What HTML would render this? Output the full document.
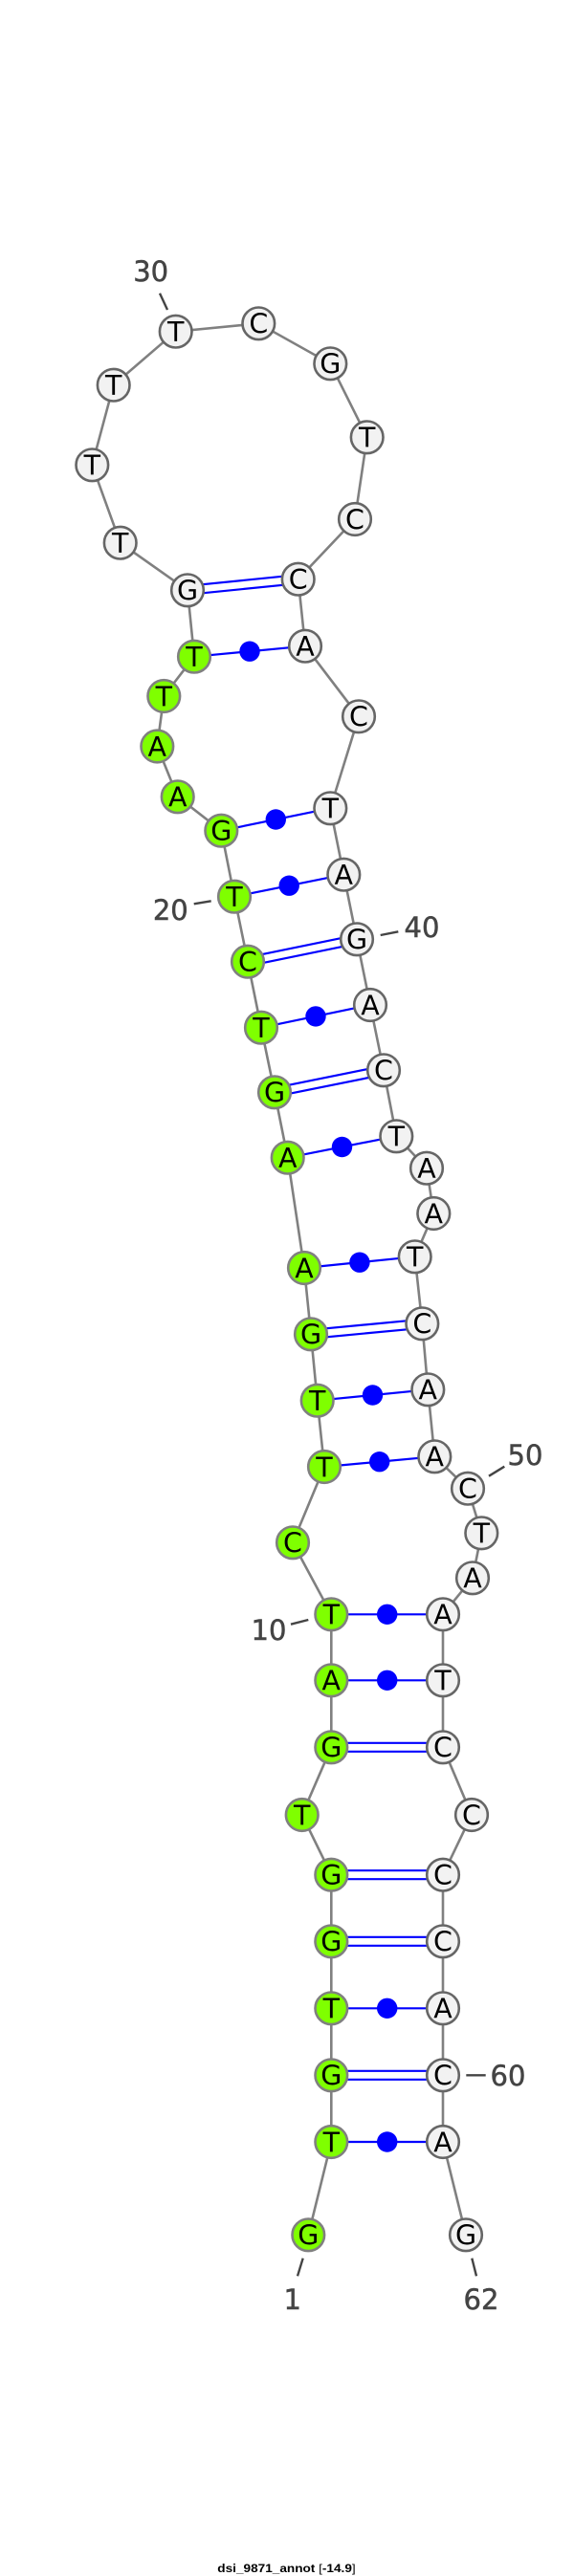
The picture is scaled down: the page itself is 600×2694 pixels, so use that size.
<!DOCTYPE html>
<html>
<head>
<meta charset="utf-8">
<style>
html,body{margin:0;padding:0;background:#fff;}
svg{display:block;}
.n{font-family:"DejaVu Sans",sans-serif;font-size:28.5px;text-anchor:middle;fill:#000;transform:translateY(0.8px);}
.l{font-family:"DejaVu Sans",sans-serif;font-size:29px;text-anchor:middle;fill:#444;stroke:#444;stroke-width:0.5;transform:translateY(0.6px);}
.g{fill:#7fff00;stroke:#808080;stroke-width:2.6;}
.w{fill:#f2f2f2;stroke:#666;stroke-width:2.6;}
.p{stroke:#0000ff;stroke-width:2.2;fill:none;}
.t{stroke:#444;stroke-width:2.4;}
</style>
</head>
<body>
<svg width="600" height="2694" viewBox="0 0 600 2694" xmlns="http://www.w3.org/2000/svg">
<polyline fill="none" stroke="#808080" stroke-width="2.6" points="322.3,2337.3 346.3,2240 346.3,2170.3 346.3,2100.3 346.3,2030.3 346.3,1960.7 315.7,1898 346.3,1827.3 346.3,1757.3 346.3,1688.3 306,1613.3 339,1534 331.7,1464.7 325,1395.3 318,1326 300.7,1210.7 287,1142.3 273,1074.7 259,1005.7 245,937.7 231.3,868.7 185.7,833.3 164.3,780.5 171.3,728 203,686.7 196,617.3 125.7,567.7 96.3,486.3 118.7,402.7 183.7,346.7 270.3,338.3 345.3,380.3 383.7,457.3 371,543 311.7,605.7 319,675.7 375,749.3 345.3,845.3 359.3,914.7 373,982.3 387,1051 401,1119.3 414.3,1188.3 446,1221.7 453.3,1269 433.7,1314.3 441.3,1384.3 447.3,1453.3 454.3,1523.3 489,1556.7 503.3,1603.3 494,1650.3 463,1688.3 463,1757.3 463,1827.3 493,1898 463,1960.7 463,2030.3 463,2100.3 463,2170.3 463,2240 487,2337.3"/>
<line class="p" x1="346.3" y1="2240" x2="463" y2="2240"/>
<line class="p" x1="346.3" y1="2100.3" x2="463" y2="2100.3"/>
<line class="p" x1="346.3" y1="1757.3" x2="463" y2="1757.3"/>
<line class="p" x1="346.3" y1="1688.3" x2="463" y2="1688.3"/>
<line class="p" x1="339" y1="1534" x2="454.3" y2="1523.3"/>
<line class="p" x1="331.7" y1="1464.7" x2="447.3" y2="1453.3"/>
<line class="p" x1="318" y1="1326" x2="433.7" y2="1314.3"/>
<line class="p" x1="300.7" y1="1210.7" x2="414.3" y2="1188.3"/>
<line class="p" x1="273" y1="1074.7" x2="387" y2="1051"/>
<line class="p" x1="245" y1="937.7" x2="359.3" y2="914.7"/>
<line class="p" x1="231.3" y1="868.7" x2="345.3" y2="845.3"/>
<line class="p" x1="203" y1="686.7" x2="319" y2="675.7"/>
<line class="p" x1="346.3" y1="2165.8" x2="463" y2="2165.8"/><line class="p" x1="346.3" y1="2174.8" x2="463" y2="2174.8"/>
<line class="p" x1="346.3" y1="2025.8" x2="463" y2="2025.8"/><line class="p" x1="346.3" y1="2034.8" x2="463" y2="2034.8"/>
<line class="p" x1="346.3" y1="1956.2" x2="463" y2="1956.2"/><line class="p" x1="346.3" y1="1965.2" x2="463" y2="1965.2"/>
<line class="p" x1="346.3" y1="1822.8" x2="463" y2="1822.8"/><line class="p" x1="346.3" y1="1831.8" x2="463" y2="1831.8"/>
<line class="p" x1="324.6" y1="1390.8" x2="440.9" y2="1379.8"/><line class="p" x1="325.4" y1="1399.8" x2="441.7" y2="1388.8"/>
<line class="p" x1="286.1" y1="1137.9" x2="400.1" y2="1114.9"/><line class="p" x1="287.9" y1="1146.7" x2="401.9" y2="1123.7"/>
<line class="p" x1="258.1" y1="1001.3" x2="372.1" y2="977.9"/><line class="p" x1="259.9" y1="1010.1" x2="373.9" y2="986.7"/>
<line class="p" x1="195.55" y1="612.8" x2="311.25" y2="601.2"/><line class="p" x1="196.45" y1="621.8" x2="312.15" y2="610.2"/>
<g fill="#0000ff">
<circle cx="404.7" cy="2240" r="10.7"/>
<circle cx="404.7" cy="2100.3" r="10.7"/>
<circle cx="404.7" cy="1757.3" r="10.7"/>
<circle cx="404.7" cy="1688.3" r="10.7"/>
<circle cx="396.7" cy="1528.7" r="10.7"/>
<circle cx="389.5" cy="1459" r="10.7"/>
<circle cx="375.9" cy="1320.2" r="10.7"/>
<circle cx="357.5" cy="1199.5" r="10.7"/>
<circle cx="330" cy="1062.9" r="10.7"/>
<circle cx="302.2" cy="926.2" r="10.7"/>
<circle cx="288.3" cy="857" r="10.7"/>
<circle cx="261" cy="681.2" r="10.7"/>
</g>
<g>
<circle class="g" cx="322.3" cy="2337.3" r="16.8"/><text class="n" x="322.3" y="2346.8">G</text>
<circle class="g" cx="346.3" cy="2240" r="16.8"/><text class="n" x="346.3" y="2249.5">T</text>
<circle class="g" cx="346.3" cy="2170.3" r="16.8"/><text class="n" x="346.3" y="2179.8">G</text>
<circle class="g" cx="346.3" cy="2100.3" r="16.8"/><text class="n" x="346.3" y="2109.8">T</text>
<circle class="g" cx="346.3" cy="2030.3" r="16.8"/><text class="n" x="346.3" y="2039.8">G</text>
<circle class="g" cx="346.3" cy="1960.7" r="16.8"/><text class="n" x="346.3" y="1970.2">G</text>
<circle class="g" cx="315.7" cy="1898" r="16.8"/><text class="n" x="315.7" y="1907.5">T</text>
<circle class="g" cx="346.3" cy="1827.3" r="16.8"/><text class="n" x="346.3" y="1836.8">G</text>
<circle class="g" cx="346.3" cy="1757.3" r="16.8"/><text class="n" x="346.3" y="1766.8">A</text>
<circle class="g" cx="346.3" cy="1688.3" r="16.8"/><text class="n" x="346.3" y="1697.8">T</text>
<circle class="g" cx="306" cy="1613.3" r="16.8"/><text class="n" x="306" y="1622.8">C</text>
<circle class="g" cx="339" cy="1534" r="16.8"/><text class="n" x="339" y="1543.5">T</text>
<circle class="g" cx="331.7" cy="1464.7" r="16.8"/><text class="n" x="331.7" y="1474.2">T</text>
<circle class="g" cx="325" cy="1395.3" r="16.8"/><text class="n" x="325" y="1404.8">G</text>
<circle class="g" cx="318" cy="1326" r="16.8"/><text class="n" x="318" y="1335.5">A</text>
<circle class="g" cx="300.7" cy="1210.7" r="16.8"/><text class="n" x="300.7" y="1220.2">A</text>
<circle class="g" cx="287" cy="1142.3" r="16.8"/><text class="n" x="287" y="1151.8">G</text>
<circle class="g" cx="273" cy="1074.7" r="16.8"/><text class="n" x="273" y="1084.2">T</text>
<circle class="g" cx="259" cy="1005.7" r="16.8"/><text class="n" x="259" y="1015.2">C</text>
<circle class="g" cx="245" cy="937.7" r="16.8"/><text class="n" x="245" y="947.2">T</text>
<circle class="g" cx="231.3" cy="868.7" r="16.8"/><text class="n" x="231.3" y="878.2">G</text>
<circle class="g" cx="185.7" cy="833.3" r="16.8"/><text class="n" x="185.7" y="842.8">A</text>
<circle class="g" cx="164.3" cy="780.5" r="16.8"/><text class="n" x="164.3" y="790">A</text>
<circle class="g" cx="171.3" cy="728" r="16.8"/><text class="n" x="171.3" y="737.5">T</text>
<circle class="g" cx="203" cy="686.7" r="16.8"/><text class="n" x="203" y="696.2">T</text>
<circle class="w" cx="196" cy="617.3" r="16.8"/><text class="n" x="196" y="626.8">G</text>
<circle class="w" cx="125.7" cy="567.7" r="16.8"/><text class="n" x="125.7" y="577.2">T</text>
<circle class="w" cx="96.3" cy="486.3" r="16.8"/><text class="n" x="96.3" y="495.8">T</text>
<circle class="w" cx="118.7" cy="402.7" r="16.8"/><text class="n" x="118.7" y="412.2">T</text>
<circle class="w" cx="183.7" cy="346.7" r="16.8"/><text class="n" x="183.7" y="356.2">T</text>
<circle class="w" cx="270.3" cy="338.3" r="16.8"/><text class="n" x="270.3" y="347.8">C</text>
<circle class="w" cx="345.3" cy="380.3" r="16.8"/><text class="n" x="345.3" y="389.8">G</text>
<circle class="w" cx="383.7" cy="457.3" r="16.8"/><text class="n" x="383.7" y="466.8">T</text>
<circle class="w" cx="371" cy="543" r="16.8"/><text class="n" x="371" y="552.5">C</text>
<circle class="w" cx="311.7" cy="605.7" r="16.8"/><text class="n" x="311.7" y="615.2">C</text>
<circle class="w" cx="319" cy="675.7" r="16.8"/><text class="n" x="319" y="685.2">A</text>
<circle class="w" cx="375" cy="749.3" r="16.8"/><text class="n" x="375" y="758.8">C</text>
<circle class="w" cx="345.3" cy="845.3" r="16.8"/><text class="n" x="345.3" y="854.8">T</text>
<circle class="w" cx="359.3" cy="914.7" r="16.8"/><text class="n" x="359.3" y="924.2">A</text>
<circle class="w" cx="373" cy="982.3" r="16.8"/><text class="n" x="373" y="991.8">G</text>
<circle class="w" cx="387" cy="1051" r="16.8"/><text class="n" x="387" y="1060.5">A</text>
<circle class="w" cx="401" cy="1119.3" r="16.8"/><text class="n" x="401" y="1128.8">C</text>
<circle class="w" cx="414.3" cy="1188.3" r="16.8"/><text class="n" x="414.3" y="1197.8">T</text>
<circle class="w" cx="446" cy="1221.7" r="16.8"/><text class="n" x="446" y="1231.2">A</text>
<circle class="w" cx="453.3" cy="1269" r="16.8"/><text class="n" x="453.3" y="1278.5">A</text>
<circle class="w" cx="433.7" cy="1314.3" r="16.8"/><text class="n" x="433.7" y="1323.8">T</text>
<circle class="w" cx="441.3" cy="1384.3" r="16.8"/><text class="n" x="441.3" y="1393.8">C</text>
<circle class="w" cx="447.3" cy="1453.3" r="16.8"/><text class="n" x="447.3" y="1462.8">A</text>
<circle class="w" cx="454.3" cy="1523.3" r="16.8"/><text class="n" x="454.3" y="1532.8">A</text>
<circle class="w" cx="489" cy="1556.7" r="16.8"/><text class="n" x="489" y="1566.2">C</text>
<circle class="w" cx="503.3" cy="1603.3" r="16.8"/><text class="n" x="503.3" y="1612.8">T</text>
<circle class="w" cx="494" cy="1650.3" r="16.8"/><text class="n" x="494" y="1659.8">A</text>
<circle class="w" cx="463" cy="1688.3" r="16.8"/><text class="n" x="463" y="1697.8">A</text>
<circle class="w" cx="463" cy="1757.3" r="16.8"/><text class="n" x="463" y="1766.8">T</text>
<circle class="w" cx="463" cy="1827.3" r="16.8"/><text class="n" x="463" y="1836.8">C</text>
<circle class="w" cx="493" cy="1898" r="16.8"/><text class="n" x="493" y="1907.5">C</text>
<circle class="w" cx="463" cy="1960.7" r="16.8"/><text class="n" x="463" y="1970.2">C</text>
<circle class="w" cx="463" cy="2030.3" r="16.8"/><text class="n" x="463" y="2039.8">C</text>
<circle class="w" cx="463" cy="2100.3" r="16.8"/><text class="n" x="463" y="2109.8">A</text>
<circle class="w" cx="463" cy="2170.3" r="16.8"/><text class="n" x="463" y="2179.8">C</text>
<circle class="w" cx="463" cy="2240" r="16.8"/><text class="n" x="463" y="2249.5">A</text>
<circle class="w" cx="487" cy="2337.3" r="16.8"/><text class="n" x="487" y="2346.8">G</text>
</g>
<line class="t" x1="167" y1="306.7" x2="175" y2="324"/><text class="l" x="157.7" y="293.2">30</text>
<line class="t" x1="202.7" y1="945.3" x2="220.7" y2="942.3"/><text class="l" x="178.3" y="961.5">20</text>
<line class="t" x1="397.7" y1="978" x2="416.3" y2="974.3"/><text class="l" x="441" y="979.5">40</text>
<line class="t" x1="511" y1="1543.7" x2="527.3" y2="1533.7"/><text class="l" x="549" y="1531.5">50</text>
<line class="t" x1="304" y1="1698.7" x2="322.3" y2="1694"/><text class="l" x="281" y="1714.5">10</text>
<line class="t" x1="487.3" y1="2170.3" x2="507.7" y2="2170.3"/><text class="l" x="531" y="2180.2">60</text>
<line class="t" x1="316.7" y1="2361.7" x2="311" y2="2380.3"/><text class="l" x="305.7" y="2414.5">1</text>
<line class="t" x1="493.3" y1="2361.7" x2="498" y2="2380.3"/><text class="l" x="503" y="2414.5">62</text>
<text x="227.3" y="2690" font-family="'Liberation Sans',sans-serif" font-size="12" font-weight="bold" fill="#000" textLength="144.4" lengthAdjust="spacingAndGlyphs">dsi_9871_annot <tspan font-weight="normal">[</tspan>-14.9<tspan font-weight="normal">]</tspan></text>
</svg>
</body>
</html>
